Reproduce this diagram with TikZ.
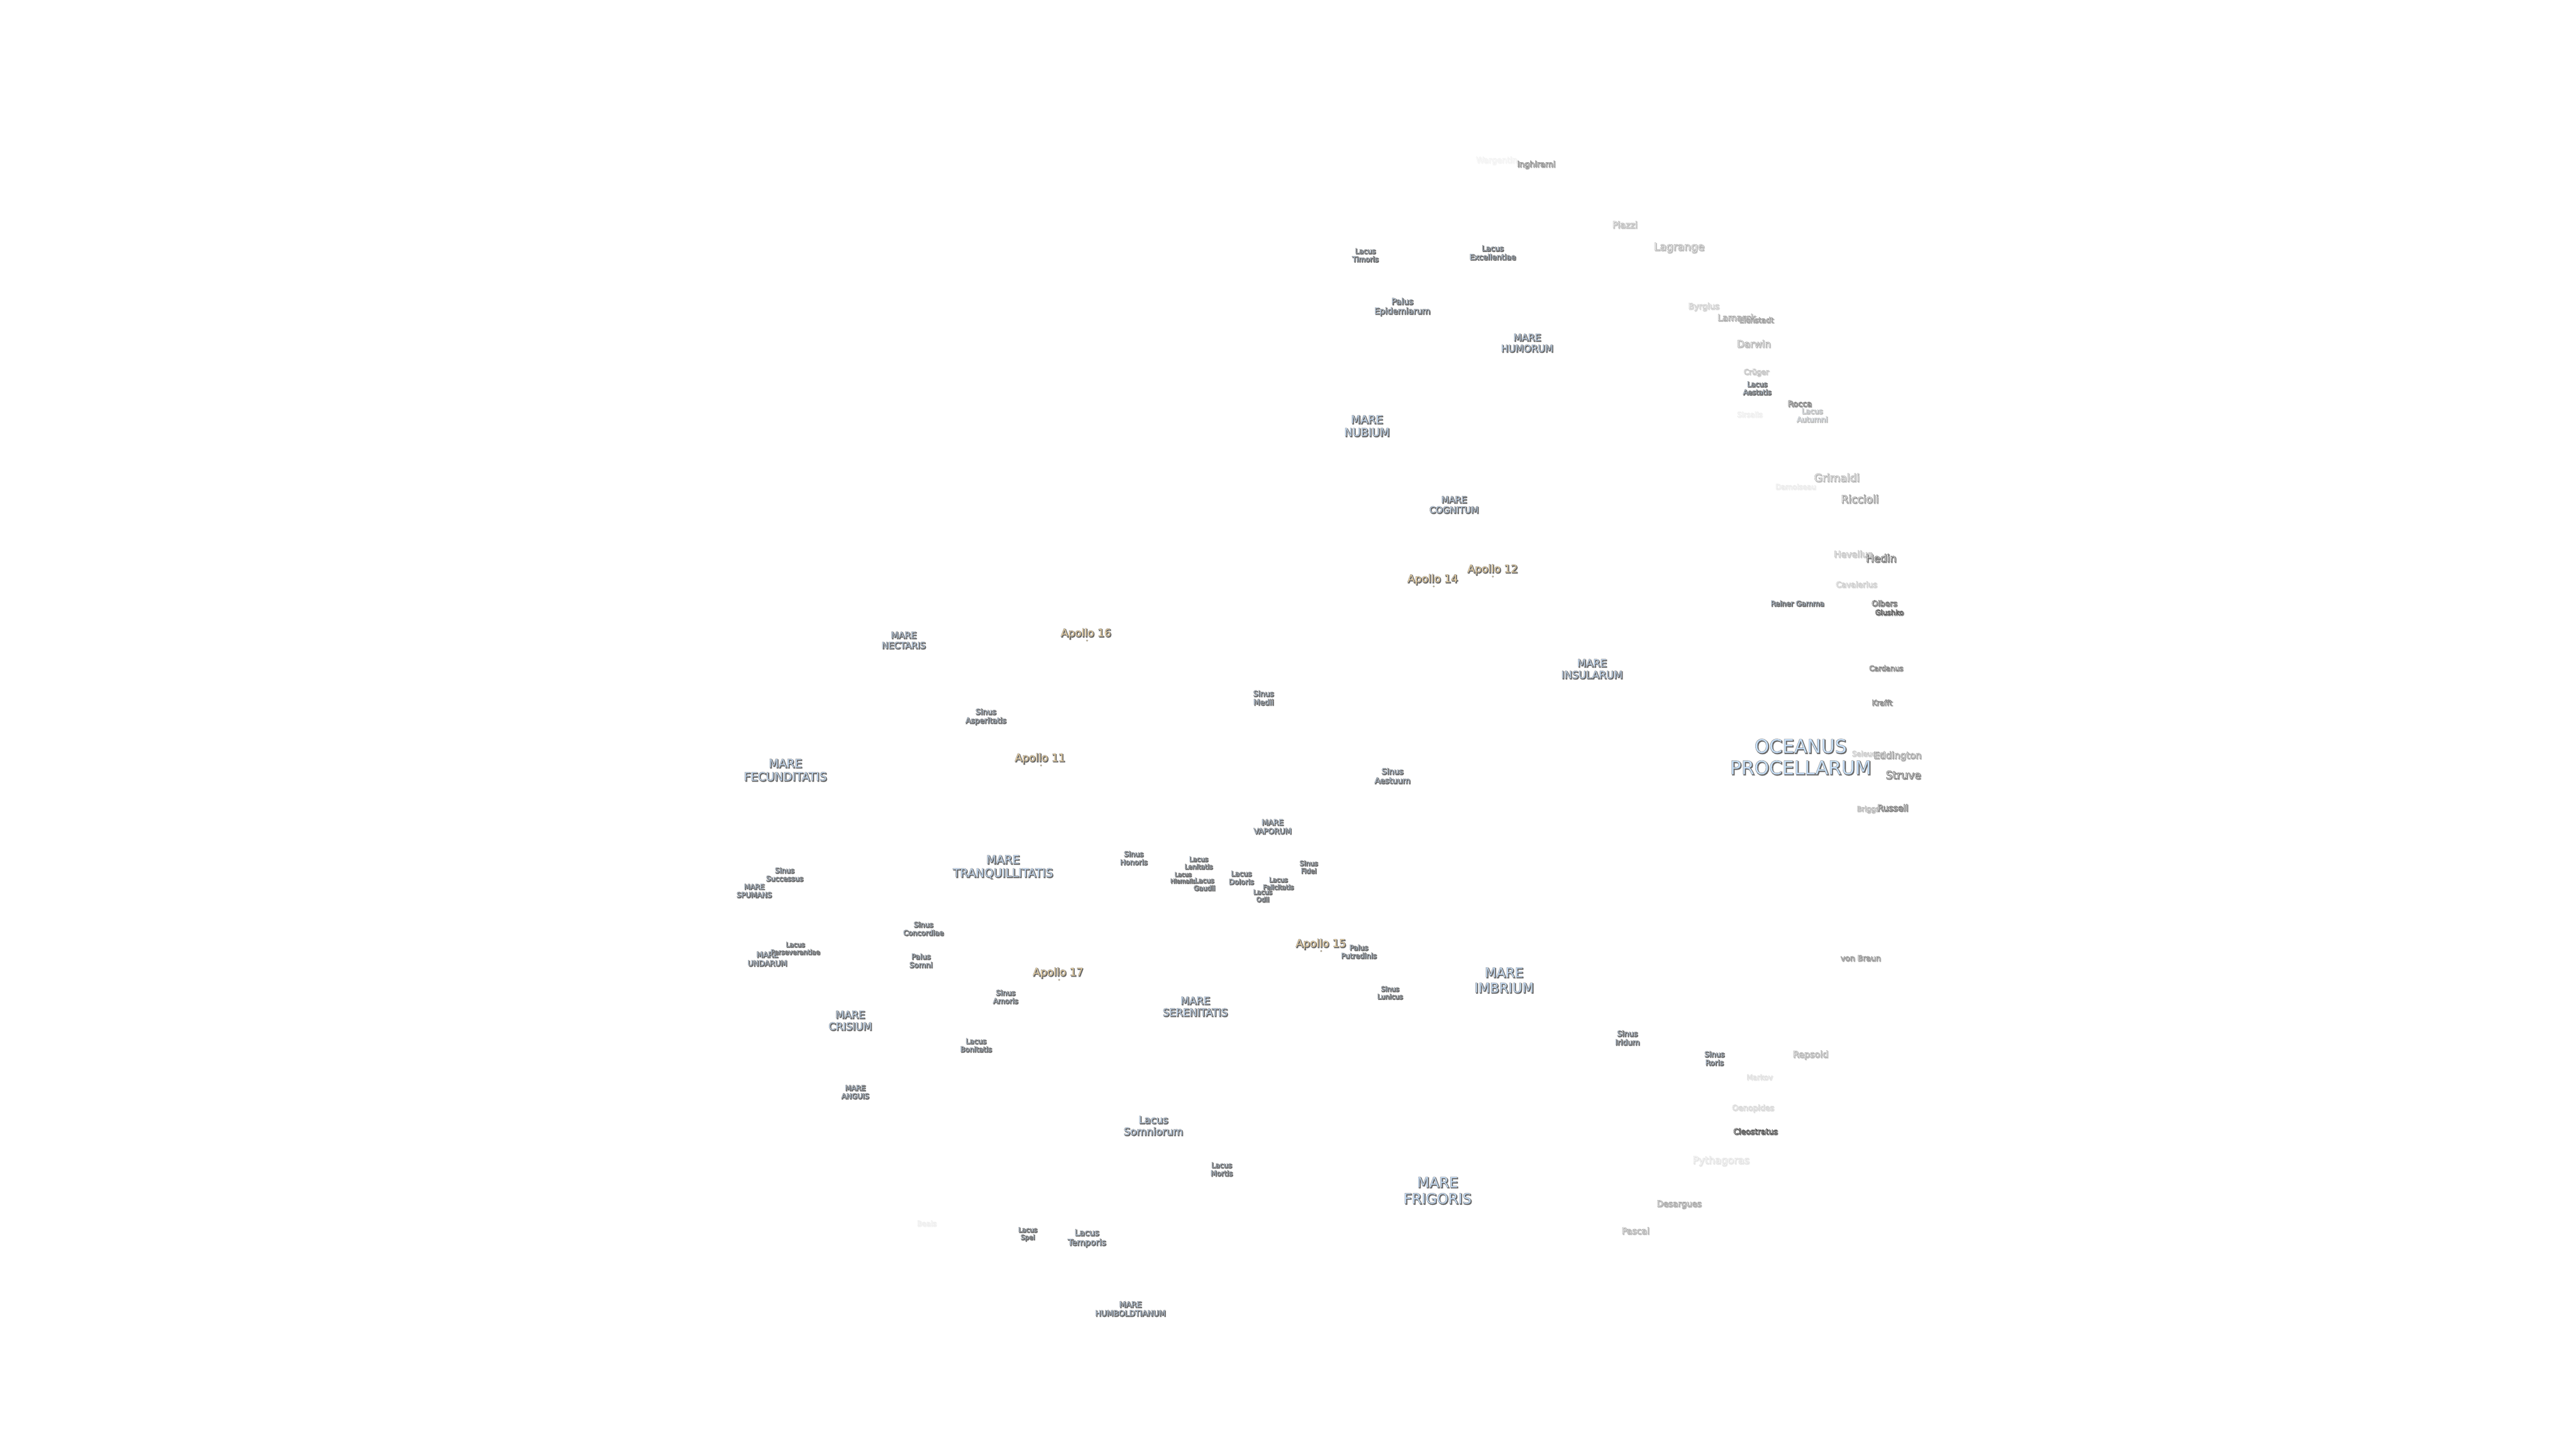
\documentclass[tikz,border=0pt]{standalone}
\usepackage{fontspec}
\setmainfont{DejaVu Sans}
\usetikzlibrary{calc}
\definecolor{seablue}{HTML}{C8E2FF}
\definecolor{landing}{HTML}{FFE0A6}
\definecolor{crater}{HTML}{FFFFFF}
\definecolor{dotfill}{HTML}{E8C88C}
\tikzset{
  labeltext/.style={inner sep=0pt,outer sep=0pt,align=center},
  landingdot/.style={circle,inner sep=0pt,minimum size=0.9pt,fill=dotfill,draw=black!45,line width=0.15pt},
}
\newcommand{\strokefacseablue}{0.50}
\newcommand{\strokefaclanding}{0.50}
\newcommand{\strokefaccrater}{1.00}
% \lab{id}{x}{y}{font px}{strength}{hue}{text}
\newcommand{\lab}[7]{%
  \pgfmathsetmacro{\fs}{#4*0.25}%
  \pgfmathsetmacro{\ls}{#4*0.25*1.14}%
  \pgfmathsetmacro{\sg}{max(0.1,1-\csname strokefac#6\endcsname*#5/100)}%
  \pgfmathsetmacro{\hg}{1-0.6*#5/100}%
  \pgfmathsetmacro{\hk}{60*#5/100}%
  \pgfmathsetmacro{\bg}{1-0.32*#5/100}%
  \pgfmathsetmacro{\bk}{32*#5/100}%
  \node[labeltext,font=\fontsize{\fs pt}{\ls pt}\selectfont,text=black!\bk!white] at ($(#2,#3)+(0.45,0.2)$)
    {\special{pdf:code \bg\space\bg\space\bg\space RG 2 Tr 0.5 w}#7\special{pdf:code 0 Tr}};
  \node[labeltext,font=\fontsize{\fs pt}{\ls pt}\selectfont,text=black!\hk!white] at ($(#2,#3)+(0.45,0.2)$)
    {\special{pdf:code \hg\space\hg\space\hg\space RG 2 Tr 0.2 w}#7\special{pdf:code 0 Tr}};
  \node[labeltext,font=\fontsize{\fs pt}{\ls pt}\selectfont,text=#6!#5!white] (#1) at ($(#2,#3)+(0,-0.3)$)
    {\special{pdf:code \sg\space\sg\space\sg\space RG 2 Tr 0.15 w}#7\special{pdf:code 0 Tr}};
}
\begin{document}
\begin{tikzpicture}[x=0.91837pt,y=-0.91837pt]
\useasboundingbox (0,0) rectangle (1568,882);
\fill[white] (0,0) rectangle (1568,882);
% craters, upper right
\lab{wargentin}{911}{98}{18}{6}{crater}{Wargentin}
\lab{inghirami}{935}{100.5}{18}{55}{crater}{Inghirami}
\lab{piazzi}{989}{137}{20}{35}{crater}{Piazzi}
\lab{lagrange}{1022}{151}{24}{40}{crater}{Lagrange}
\lab{byrgius}{1037}{187}{18.6}{25}{crater}{Byrgius}
\lab{lamarck}{1057}{193.5}{20}{45}{crater}{Lamarck}
\lab{eichstadt}{1069}{195}{16.6}{50}{crater}{Eichstadt}
\lab{darwin}{1067.5}{209.5}{21.5}{40}{crater}{Darwin}
\lab{cruger}{1069}{227}{16.5}{30}{crater}{Crüger}
\lab{rocca}{1095.5}{246}{18}{65}{crater}{Rocca}
\lab{sirsalis}{1065}{252.5}{16}{8}{crater}{Sirsalis}
\lab{grimaldi}{1118}{291}{24}{40}{crater}{Grimaldi}
\lab{damoiseau}{1093}{296.5}{16}{10}{crater}{Damoiseau}
\lab{riccioli}{1132}{304}{24}{55}{crater}{Riccioli}
\lab{hevelius}{1128}{337.5}{20}{30}{crater}{Hevelius}
\lab{hedin}{1145}{340}{23.5}{75}{crater}{Hedin}
\lab{cavalerius}{1130}{356}{17.5}{25}{crater}{Cavalerius}
\lab{olbers}{1147}{367.5}{17.6}{70}{crater}{Olbers}
\lab{glushko}{1150}{373}{16}{80}{crater}{Glushko}
\lab{cardanus}{1148}{407}{16}{60}{crater}{Cardanus}
\lab{krafft}{1145.5}{428}{16.5}{60}{crater}{Krafft}
\lab{seleucus}{1137}{459}{16}{25}{crater}{Seleucus}
\lab{eddington}{1155}{460.5}{21}{50}{crater}{Eddington}
\lab{struve}{1158.5}{472}{24}{70}{crater}{Struve}
\lab{briggs}{1137}{493}{16}{35}{crater}{Briggs}
\lab{russell}{1152}{492}{19.8}{70}{crater}{Russell}
% craters, lower right
\lab{vonbraun}{1132.5}{583.5}{17.5}{55}{crater}{von Braun}
\lab{repsold}{1102}{642.5}{20}{40}{crater}{Repsold}
\lab{markov}{1071}{656}{16}{15}{crater}{Markov}
\lab{oenopides}{1067}{675}{17.6}{20}{crater}{Oenopides}
\lab{cleostratus}{1068.5}{689}{17.4}{85}{crater}{Cleostratus}
\lab{pythagoras}{1047.5}{707}{22.6}{15}{crater}{Pythagoras}
\lab{desargues}{1022}{733.5}{18.8}{45}{crater}{Desargues}
\lab{pascal}{995.5}{749.5}{19.7}{40}{crater}{Pascal}
\lab{beals}{564}{745}{16}{8}{crater}{Beals}
% seas and lakes
\lab{timoris}{831}{155.5}{16}{100}{seablue}{Lacus\\Timoris}
\lab{excellentiae}{908.5}{154}{17}{100}{seablue}{Lacus\\Excellentiae}
\lab{epidemiarum}{853.5}{187}{18.7}{100}{seablue}{Palus\\Epidemiarum}
\lab{humorum}{929.5}{209}{21.5}{100}{seablue}{MARE\\HUMORUM}
\lab{nubium}{832}{259.5}{25}{100}{seablue}{MARE\\NUBIUM}
\lab{cognitum}{885}{307.5}{20}{100}{seablue}{MARE\\COGNITUM}
\lab{aestatis}{1069.5}{236.5}{15.7}{100}{seablue}{Lacus\\Aestatis}
\lab{autumni}{1103}{253}{16.3}{45}{seablue}{Lacus\\Autumni}
\lab{reiner}{1094}{367.5}{16}{100}{seablue}{Reiner Gamma}
\lab{oceanus}{1096}{461}{42}{100}{seablue}{OCEANUS\\PROCELLARUM}
\lab{nectaris}{550}{390}{20}{100}{seablue}{MARE\\NECTARIS}
\lab{insularum}{969}{407.5}{23}{100}{seablue}{MARE\\INSULARUM}
\lab{medii}{769}{425}{17}{100}{seablue}{Sinus\\Medii}
\lab{asperitatis}{600}{436.5}{17}{100}{seablue}{Sinus\\Asperitatis}
\lab{fecunditatis}{478}{469}{26}{100}{seablue}{MARE\\FECUNDITATIS}
\lab{aestuum}{847.5}{472.5}{18}{100}{seablue}{Sinus\\Aestuum}
\lab{vaporum}{774.5}{503.5}{17}{100}{seablue}{MARE\\VAPORUM}
\lab{honoris}{690}{522.5}{16}{100}{seablue}{Sinus\\Honoris}
\lab{lenitatis}{729.5}{525.5}{14.7}{100}{seablue}{Lacus\\Lenitatis}
\lab{hiemalis}{720}{534.5}{13}{100}{seablue}{Lacus\\Hiemalis}
\lab{gaudii}{733}{538.5}{15}{100}{seablue}{Lacus\\Gaudii}
\lab{doloris}{755.5}{534.5}{16}{100}{seablue}{Lacus\\Doloris}
\lab{felicitatis}{778}{538}{14.5}{100}{seablue}{Lacus\\Felicitatis}
\lab{odii}{768.5}{545.5}{14.6}{100}{seablue}{Lacus\\Odii}
\lab{fidei}{796.5}{528}{15}{100}{seablue}{Sinus\\Fidei}
\lab{successus}{477.5}{532.5}{16}{100}{seablue}{Sinus\\Successus}
\lab{spumans}{459}{542.5}{16}{100}{seablue}{MARE\\SPUMANS}
\lab{tranquillitatis}{610.5}{528}{26}{100}{seablue}{MARE\\TRANQUILLITATIS}
\lab{concordiae}{562}{565.5}{16}{100}{seablue}{Sinus\\Concordiae}
\lab{undarum}{467}{584}{17}{100}{seablue}{MARE\\UNDARUM}
\lab{perseverantiae}{484}{577.5}{14.7}{100}{seablue}{Lacus\\Perseverantiae}
\lab{somni}{560.5}{585}{16.5}{100}{seablue}{Palus\\Somni}
\lab{putredinis}{827}{579.5}{16}{100}{seablue}{Palus\\Putredinis}
\lab{lunicus}{846}{604.5}{15}{100}{seablue}{Sinus\\Lunicus}
\lab{imbrium}{915.5}{597}{30}{100}{seablue}{MARE\\IMBRIUM}
\lab{amoris}{612}{607}{16}{100}{seablue}{Sinus\\Amoris}
\lab{serenitatis}{727.5}{613}{23}{100}{seablue}{MARE\\SERENITATIS}
\lab{crisium}{517.5}{621.5}{23}{100}{seablue}{MARE\\CRISIUM}
\lab{bonitatis}{594}{636.5}{16}{100}{seablue}{Lacus\\Bonitatis}
\lab{iridum}{990.5}{632}{17}{100}{seablue}{Sinus\\Iridum}
\lab{roris}{1043.5}{644.5}{16.5}{100}{seablue}{Sinus\\Roris}
\lab{anguis}{520.5}{665}{16}{100}{seablue}{MARE\\ANGUIS}
\lab{somniorum}{702}{685.5}{23}{100}{seablue}{Lacus\\Somniorum}
\lab{mortis}{743.5}{712}{16}{100}{seablue}{Lacus\\Mortis}
\lab{frigoris}{875}{725}{32}{100}{seablue}{MARE\\FRIGORIS}
\lab{spei}{625.5}{751.5}{14.6}{100}{seablue}{Lacus\\Spei}
\lab{temporis}{661.5}{754}{19}{100}{seablue}{Lacus\\Temporis}
\lab{humboldtianum}{688}{797}{17.4}{100}{seablue}{MARE\\HUMBOLDTIANUM}
% landing sites
\node[landingdot] (site12) at (908.7,351) {};
\lab{apollo12}{908.5}{347}{24}{100}{landing}{Apollo 12}
\node[landingdot] (site14) at (872.7,357) {};
\lab{apollo14}{872}{353}{24}{100}{landing}{Apollo 14}
\node[landingdot] (site16) at (661.7,390) {};
\lab{apollo16}{661}{386}{24}{100}{landing}{Apollo 16}
\node[landingdot] (site11) at (633.7,466) {};
\lab{apollo11}{633}{462}{24}{100}{landing}{Apollo 11}
\node[landingdot] (site15) at (804.2,579) {};
\lab{apollo15}{804}{575}{24}{100}{landing}{Apollo 15}
\node[landingdot] (site17) at (644.7,596.5) {};
\lab{apollo17}{644}{592.5}{24}{100}{landing}{Apollo 17}
\end{tikzpicture}
\end{document}
